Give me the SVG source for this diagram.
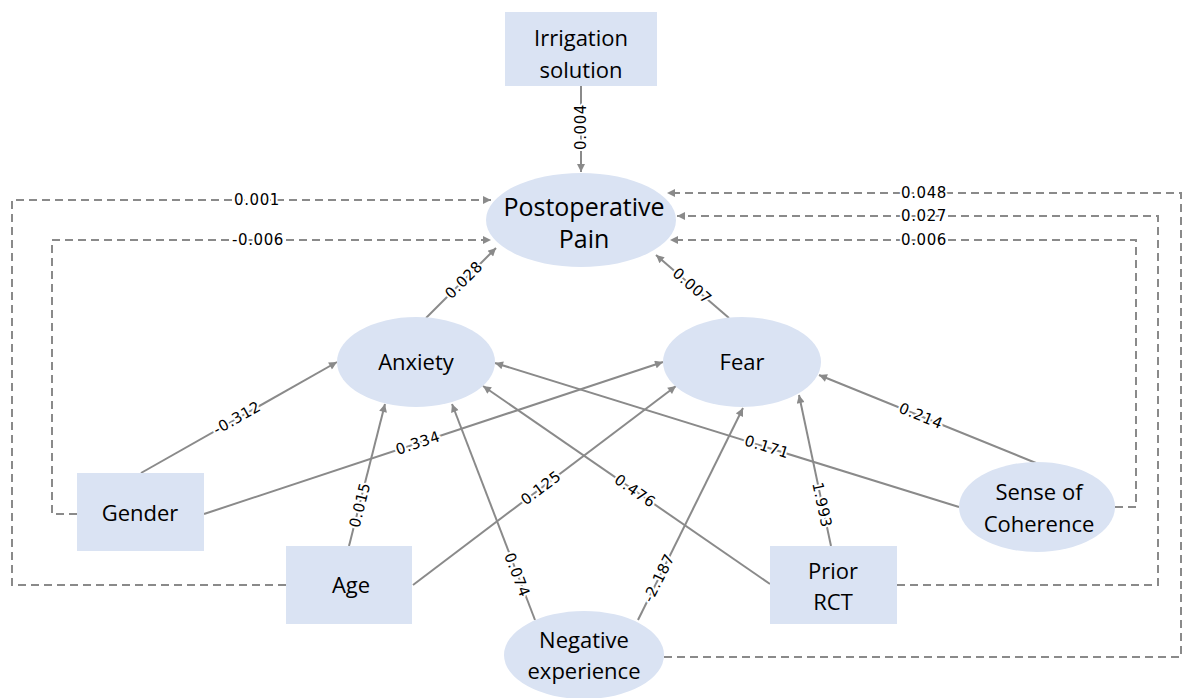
<svg xmlns="http://www.w3.org/2000/svg" width="1182" height="698" viewBox="0 0 1182 698">
<defs>
<style>
.node{fill:#dae3f3;stroke:none}
.nt{font-family:"Open Sans","Noto Sans",sans-serif;font-size:22px;fill:#000;text-anchor:middle}
.big{font-size:25px}
.e{fill:none;stroke:#8a8a8a;stroke-width:2;marker-end:url(#ah)}
.d{fill:none;stroke:#8a8a8a;stroke-width:2;stroke-dasharray:8 5;marker-end:url(#ah)}
.lb{font-family:"DejaVu Sans",sans-serif;font-size:15px;letter-spacing:0.6px;fill:#000;text-anchor:middle;dominant-baseline:central;stroke:#fff;stroke-width:4px;paint-order:stroke;stroke-linejoin:round}
</style>
<marker id="ah" viewBox="0 0 10 10" refX="10" refY="5" markerWidth="9" markerHeight="8" markerUnits="userSpaceOnUse" orient="auto">
<path d="M0,0 L10,5 L0,10 z" fill="#8a8a8a"/>
</marker>
</defs>
<rect width="1182" height="698" fill="#fff"/>
<g id="connectors">
<path class="e" d="M581,86 L581,172"/>
<path class="e" d="M426,318 L496,248"/>
<path class="e" d="M729,318 L656,255"/>
<path class="e" d="M141,473 L337,362"/>
<path class="e" d="M204,514 L663,362"/>
<path class="e" d="M349,546 L385,404"/>
<path class="e" d="M413,585 L676,386"/>
<path class="e" d="M535,620 L452,404"/>
<path class="e" d="M638,620 L743,408"/>
<path class="e" d="M770,584 L483,386"/>
<path class="e" d="M831,546 L799,395"/>
<path class="e" d="M959,507 L495,363"/>
<path class="e" d="M1036,463 L819,375"/>
<path class="d" d="M286,585 H12 V200 H491"/>
<path class="d" d="M77,514 H52 V240 H491"/>
<path class="d" d="M1115,507 H1136 V240 H670"/>
<path class="d" d="M897,585 H1158 V216 H677"/>
<path class="d" d="M664,657 H1181 V193 H667"/>
<text class="lb" transform="translate(581,127) rotate(-90)">0.004</text>
<text class="lb" transform="translate(464,280) rotate(-45)">0.028</text>
<text class="lb" transform="translate(692,286) rotate(41)">0.007</text>
<text class="lb" transform="translate(237,418) rotate(-29.5)">-0.312</text>
<text class="lb" transform="translate(418,443) rotate(-18.3)">0.334</text>
<text class="lb" transform="translate(360,505) rotate(-76)">0.015</text>
<text class="lb" transform="translate(541,488) rotate(-37)">0.125</text>
<text class="lb" transform="translate(517,575) rotate(69)">0.074</text>
<text class="lb" transform="translate(659,578) rotate(-63.6)">-2.187</text>
<text class="lb" transform="translate(635,491) rotate(34.6)">0.476</text>
<text class="lb" transform="translate(822,505) rotate(78)">1.993</text>
<text class="lb" transform="translate(767,447) rotate(17.2)">0.171</text>
<text class="lb" transform="translate(921,416) rotate(22)">0.214</text>
<text class="lb" x="257" y="200">0.001</text>
<text class="lb" x="258" y="240">-0.006</text>
<text class="lb" x="924" y="193">0.048</text>
<text class="lb" x="924" y="216">0.027</text>
<text class="lb" x="924" y="240">0.006</text>
</g>
<g id="irrigation"><rect class="node" x="505" y="12" width="152" height="74"/><text class="nt" x="581" y="46">Irrigation</text><text class="nt" x="581" y="78">solution</text></g>
<g id="pain"><ellipse class="node" cx="581" cy="220" rx="95" ry="47"/><text class="nt big" x="584" y="216">Postoperative</text><text class="nt big" x="584" y="248">Pain</text></g>
<g id="anxiety"><ellipse class="node" cx="416" cy="362" rx="79" ry="45"/><text class="nt" x="416" y="370">Anxiety</text></g>
<g id="fear"><ellipse class="node" cx="742" cy="362" rx="79" ry="45"/><text class="nt" x="742" y="370">Fear</text></g>
<g id="gender"><rect class="node" x="77" y="473" width="127" height="78"/><text class="nt" x="140" y="521">Gender</text></g>
<g id="age"><rect class="node" x="286" y="546" width="126" height="78"/><text class="nt" x="351" y="593">Age</text></g>
<g id="prior"><rect class="node" x="770" y="546" width="127" height="78"/><text class="nt" x="833" y="579">Prior</text><text class="nt" x="833" y="610">RCT</text></g>
<g id="soc"><ellipse class="node" cx="1037" cy="507" rx="78" ry="45"/><text class="nt" x="1039" y="500">Sense of</text><text class="nt" x="1039" y="532">Coherence</text></g>
<g id="negexp"><ellipse class="node" cx="584" cy="655" rx="80" ry="44"/><text class="nt" x="584" y="648">Negative</text><text class="nt" x="584" y="679">experience</text></g>
</svg>
